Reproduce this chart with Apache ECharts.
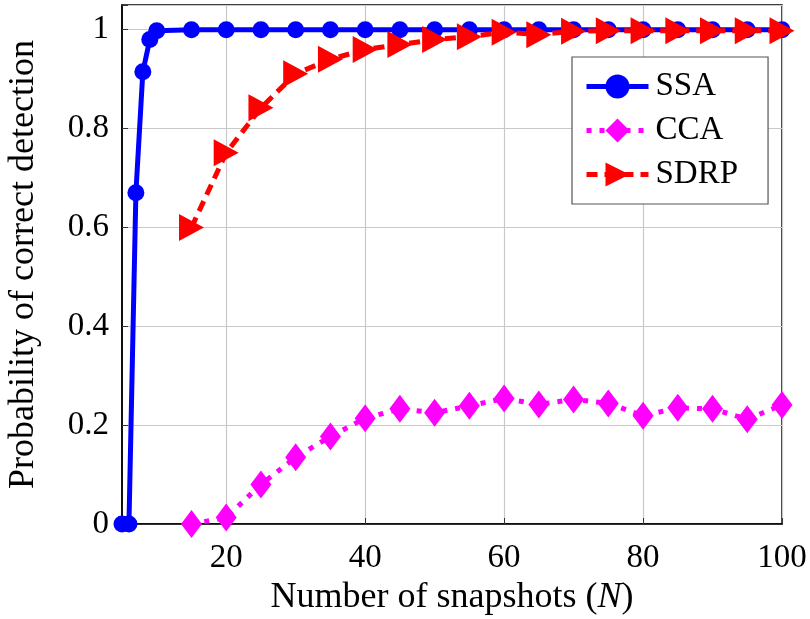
<!DOCTYPE html>
<html>
<head>
<meta charset="utf-8">
<script src="https://cdn.jsdelivr.net/npm/echarts@6/dist/echarts.min.js"></script>
<style>
  html, body { margin: 0; padding: 0; background: #fff; }
  #chart { width: 810px; height: 619px; }
</style>
</head>
<body>
<div id="chart"></div>
<script>
// Snapshot counts and detection probabilities per method
const ssaN   = [5, 6, 7, 8, 9, 10, 15, 20, 25, 30, 35, 40, 45, 50, 55, 60, 65, 70, 75, 80, 85, 90, 95, 100];
const ssaP   = [0, 0, 0.67, 0.915, 0.98, 0.998, 1, 1, 1, 1, 1, 1, 1, 1, 1, 1, 1, 1, 1, 1, 1, 1, 1, 1];
const cmpN   = [15, 20, 25, 30, 35, 40, 45, 50, 55, 60, 65, 70, 75, 80, 85, 90, 95, 100];
const ccaP   = [0, 0.013, 0.08, 0.135, 0.177, 0.214, 0.233, 0.225, 0.239, 0.254, 0.242, 0.252, 0.244, 0.219, 0.235, 0.233, 0.212, 0.241];
const sdrpP  = [0.6, 0.751, 0.842, 0.911, 0.94, 0.96, 0.97, 0.98, 0.986, 0.995, 0.99, 0.997, 0.998, 0.998, 0.998, 0.998, 0.998, 0.998];
const xTicks = [20, 40, 60, 80, 100];
const seriesNames = ['SSA', 'CCA', 'SDRP'];
const seriesColors = ['#0000ff', '#ff00ff', '#ff0000'];
const seriesDash = ['solid', [5, 8], [11, 7]];

const FONT = 'Liberation Serif';
const zip = (xs, ys) => xs.map((x, i) => [x, ys[i]]);

const chart = echarts.init(document.getElementById('chart'), null, { renderer: 'canvas' });

chart.setOption({
  animation: false,
  backgroundColor: '#ffffff',
  textStyle: { fontFamily: FONT, color: '#000' },
  grid: {
    left: 122, right: 28, top: 5, bottom: 95,
    outerBoundsMode: 'none',
    containLabel: false,
    show: true, borderColor: '#000', borderWidth: 1.5, backgroundColor: 'transparent'
  },
  legend: {
    orient: 'vertical',
    left: 572, top: 57,
    padding: [13, 30, 13, 12],
    itemGap: 11,
    itemWidth: 62, itemHeight: 30,
    backgroundColor: '#fff',
    borderColor: '#555', borderWidth: 1.2,
    textStyle: { fontFamily: FONT, fontSize: 33, color: '#000', padding: [0, 0, 0, 2] },
    data: seriesNames.map((n, i) => ({
      name: n,
      lineStyle: { width: 5, color: seriesColors[i], type: seriesDash[i] }
    }))
  },
  xAxis: {
    type: 'value',
    min: 5, max: 100,
    name: '{r|Number of snapshots (}{i|N}{r|)}',
    nameLocation: 'middle',
    nameGap: 37,
    nameTextStyle: {
      rich: {
        r: { fontFamily: FONT, fontSize: 36, color: '#000' },
        i: { fontFamily: FONT, fontSize: 36, fontStyle: 'italic', color: '#000' }
      }
    },
    axisLine: { show: true, onZero: false, lineStyle: { color: '#000', width: 1.5 } },
    axisTick: { show: true, inside: true, length: 6, customValues: xTicks, lineStyle: { color: '#333' } },
    axisLabel: { customValues: xTicks, fontFamily: FONT, fontSize: 33, color: '#000', margin: 18 },
    splitLine: { show: true, lineStyle: { color: '#c8c8c8', width: 1.2 } }
  },
  yAxis: {
    type: 'value',
    min: 0, max: 1.05, interval: 0.2,
    name: 'Probability of correct detection',
    nameLocation: 'middle',
    nameGap: 80,
    nameRotate: 90,
    nameTextStyle: { fontFamily: FONT, fontSize: 36, color: '#000' },
    axisLine: { show: true, lineStyle: { color: '#000', width: 1.5 } },
    axisTick: { show: true, inside: true, length: 6, lineStyle: { color: '#333' } },
    axisLabel: {
      fontFamily: FONT, fontSize: 33, color: '#000', margin: 13,
      formatter: v => (Math.abs(v * 5 - Math.round(v * 5)) < 1e-6 ? String(+v.toFixed(1)) : '')
    },
    splitLine: { show: true, lineStyle: { color: '#c8c8c8', width: 1.2 } }
  },
  series: [
    {
      name: 'SSA', type: 'line',
      data: zip(ssaN, ssaP),
      color: seriesColors[0],
      lineStyle: { color: seriesColors[0], width: 5 },
      symbol: 'circle', symbolSize: 17,
      itemStyle: { color: seriesColors[0] },
      z: 2
    },
    {
      name: 'CCA', type: 'line',
      data: zip(cmpN, ccaP),
      color: seriesColors[1],
      lineStyle: { color: seriesColors[1], width: 5, type: seriesDash[1], cap: 'butt' },
      symbol: 'diamond', symbolSize: [21, 28],
      itemStyle: { color: seriesColors[1] },
      z: 3
    },
    {
      name: 'SDRP', type: 'line',
      data: zip(cmpN, sdrpP),
      color: seriesColors[2],
      lineStyle: { color: seriesColors[2], width: 5, type: seriesDash[2], cap: 'butt' },
      symbol: 'triangle', symbolRotate: -90, symbolSize: [27, 25],
      itemStyle: { color: seriesColors[2] },
      z: 4
    }
  ]
});
</script>
</body>
</html>
